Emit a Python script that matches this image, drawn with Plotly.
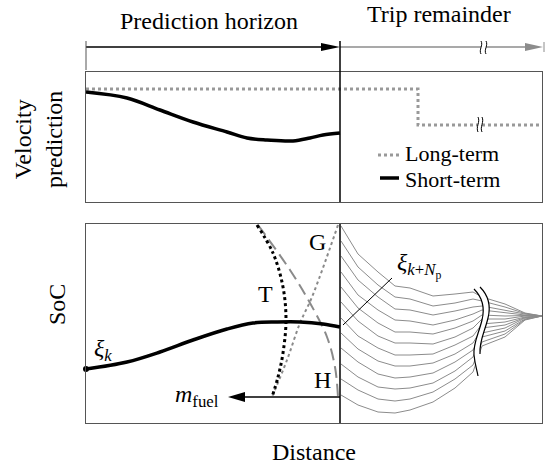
import plotly.graph_objects as go

W, H = 546, 468
FONT = "Liberation Serif, Times New Roman, serif"
FS = 24

# ---- distance axis shared by both panels (horizon ends at HORIZON) ----
HORIZON = 254
X_END = 456

# ---- velocity prediction (top panel) ----
long_x = [0, 332, 332, 456]
long_v = [113, 113, 77, 77]
short_x = [0, 41, 74, 107, 141, 161, 181, 207, 224, 237, 254]
short_v = [110, 104, 92, 80, 70, 64, 62, 61, 64, 67, 69]

# ---- state of charge (bottom panel) ----
soc_x = [0, 41, 74, 107, 141, 167, 191, 214, 237, 254]
soc_y = [54, 61, 71, 83, 94, 100, 101, 101, 99, 96]

# candidate end-of-horizon curves
t_x = [171, 187, 197, 200, 197, 192, 186]
t_y = [198, 170, 136, 103, 70, 46, 26]
g_x = [252, 226, 214, 201, 186]
g_y = [198, 126, 100, 63, 26]
h_x = [172, 204, 224, 241, 249, 252]
h_y = [198, 153, 120, 86, 56, 26]
fuel_y = 26
fuel_tip = 142

# long-term SoC trajectories over the trip remainder
traj_x = [255, 272, 292, 309, 324, 347, 369, 387, 396, 419, 439, 456]
traj_soc = [
    [197, 169, 151, 137, 135, 127, 129, 131, 126, 119, 110, 107],
    [182, 156, 138, 126, 124, 117, 120, 124, 122, 116, 109.5, 107],
    [167, 143, 126, 114, 113, 108, 112, 116, 117, 113, 109, 107],
    [151, 128, 113, 103, 102, 98, 103, 109, 113, 110, 108, 107],
    [136, 115, 100, 91, 91, 89, 95, 102, 108, 107, 107.5, 107],
    [121, 102, 87, 80, 80, 79, 86, 95, 104, 104, 107, 107],
    [105, 87, 75, 68, 68, 69, 78, 87, 99, 101, 106, 107],
    [90, 74, 62, 57, 57, 60, 69, 80, 95, 98, 105.5, 107],
    [75, 61, 49, 45, 46, 50, 61, 73, 90, 95, 105, 107],
    [59, 46, 36, 34, 35, 40, 52, 66, 86, 92, 104, 107],
    [44, 33, 24, 22, 24, 31, 44, 58, 81, 89, 103.5, 107],
    [28, 18, 11, 10, 13, 21, 35, 51, 77, 86, 103, 107],
]

GRAY = "#8c8c8c"
BORDER = "#555555"


def pxx(x):
    return x / W


def pxy(y):
    return 1 - y / H


fig = go.Figure()

# top panel
fig.add_trace(go.Scatter(x=long_x, y=long_v, mode="lines",
                         line=dict(color="#999999", width=3, dash="dot"),
                         xaxis="x", yaxis="y", hoverinfo="skip"))
fig.add_trace(go.Scatter(x=short_x, y=short_v, mode="lines",
                         line=dict(color="black", width=3.5, shape="spline", smoothing=1.0),
                         xaxis="x", yaxis="y", hoverinfo="skip"))

# bottom panel: trajectories first so the rest sits on top
for traj in traj_soc:
    fig.add_trace(go.Scatter(x=traj_x, y=traj, mode="lines",
                             line=dict(color=GRAY, width=1),
                             xaxis="x2", yaxis="y2", hoverinfo="skip"))

fig.add_trace(go.Scatter(x=h_x, y=h_y, mode="lines",
                         line=dict(color="#8a8a8a", width=2, dash="12px,6px", shape="spline"),
                         xaxis="x2", yaxis="y2", hoverinfo="skip"))
fig.add_trace(go.Scatter(x=g_x, y=g_y, mode="lines",
                         line=dict(color="#8a8a8a", width=2, dash="dot", shape="spline"),
                         xaxis="x2", yaxis="y2", hoverinfo="skip"))
fig.add_trace(go.Scatter(x=t_x, y=t_y, mode="lines",
                         line=dict(color="black", width=3, dash="dot", shape="spline"),
                         xaxis="x2", yaxis="y2", hoverinfo="skip"))
fig.add_trace(go.Scatter(x=soc_x, y=soc_y, mode="lines",
                         line=dict(color="black", width=3.5, shape="spline", smoothing=1.0),
                         xaxis="x2", yaxis="y2", hoverinfo="skip"))
fig.add_trace(go.Scatter(x=[soc_x[0]], y=[soc_y[0]], mode="markers",
                         marker=dict(color="black", size=6), cliponaxis=False,
                         xaxis="x2", yaxis="y2", hoverinfo="skip"))
# fuel mass arrow shaft
fig.add_trace(go.Scatter(x=[HORIZON, fuel_tip + 14], y=[fuel_y, fuel_y], mode="lines",
                         line=dict(color="black", width=1.5),
                         xaxis="x2", yaxis="y2", hoverinfo="skip"))

shapes = []


def s_path(x, y0, y1, amp):
    """Small S-shaped break mark in pixel space, returned in paper coords."""
    d = y1 - y0
    pts = [(x, y0), (x + amp, y0 + d / 3), (x - amp, y0 + 2 * d / 3), (x, y1)]
    p = [(pxx(a), pxy(b)) for a, b in pts]
    return "M {} {} C {} {}, {} {}, {} {}".format(*[v for q in p for v in q])


def band_path(x, y0, y1, amp, w):
    d = y1 - y0
    pts = [(x, y0), (x + amp, y0 + d / 3), (x - amp, y0 + 2 * d / 3), (x, y1)]
    p = [(pxx(a), pxy(b)) for a, b in pts]
    q = [(pxx(a + w), pxy(b)) for a, b in reversed(pts)]
    s = "M {} {} C {} {}, {} {}, {} {}".format(*[v for t in p for v in t])
    s += " L {} {} C {} {}, {} {}, {} {} Z".format(*[v for t in q for v in t])
    return s


# top row: prediction horizon / trip remainder arrows
ya = 47
shapes.append(dict(type="line", xref="paper", yref="paper", x0=pxx(86), x1=pxx(322), y0=pxy(ya), y1=pxy(ya),
                   line=dict(color="black", width=1.3)))
shapes.append(dict(type="path", xref="paper", yref="paper",
                   path=f"M {pxx(340)} {pxy(ya)} L {pxx(321)} {pxy(ya-4)} L {pxx(321)} {pxy(ya+4)} Z",
                   fillcolor="black", line=dict(width=0)))
shapes.append(dict(type="line", xref="paper", yref="paper", x0=pxx(340), x1=pxx(526), y0=pxy(ya), y1=pxy(ya),
                   line=dict(color=GRAY, width=1.3)))
shapes.append(dict(type="path", xref="paper", yref="paper",
                   path=f"M {pxx(543)} {pxy(ya)} L {pxx(525)} {pxy(ya-4)} L {pxx(525)} {pxy(ya+4)} Z",
                   fillcolor=GRAY, line=dict(width=0)))
shapes.append(dict(type="line", xref="paper", yref="paper", x0=pxx(86), x1=pxx(86), y0=pxy(41), y1=pxy(70),
                   line=dict(color=BORDER, width=1)))
shapes.append(dict(type="line", xref="paper", yref="paper", x0=pxx(544), x1=pxx(544), y0=pxy(42), y1=pxy(52),
                   line=dict(color=GRAY, width=1)))
shapes.append(dict(type="path", xref="paper", yref="paper", path=band_path(481, 41, 54, 2.5, 5),
                   fillcolor="white", line=dict(width=0)))
for bx in (481, 486):
    shapes.append(dict(type="path", xref="paper", yref="paper", path=s_path(bx, 41, 54, 2.5),
                       line=dict(color="black", width=1)))

# horizon divider
shapes.append(dict(type="line", xref="x", yref="paper", x0=HORIZON, x1=HORIZON, y0=pxy(41), y1=pxy(202),
                   line=dict(color="black", width=1.5)))
shapes.append(dict(type="line", xref="x2", yref="paper", x0=HORIZON, x1=HORIZON, y0=pxy(224), y1=pxy(423),
                   line=dict(color="black", width=1.5)))

# top panel break on long-term profile
shapes.append(dict(type="path", xref="paper", yref="paper", path=band_path(478, 117, 132, 2.5, 4),
                   fillcolor="white", line=dict(width=0)))
for bx in (478, 482):
    shapes.append(dict(type="path", xref="paper", yref="paper", path=s_path(bx, 117, 132, 2.5),
                       line=dict(color="black", width=1)))

# legend samples
shapes.append(dict(type="line", xref="paper", yref="paper", x0=pxx(378), x1=pxx(399), y0=pxy(155), y1=pxy(155),
                   line=dict(color="#999999", width=3, dash="dot")))
shapes.append(dict(type="line", xref="paper", yref="paper", x0=pxx(380), x1=pxx(399), y0=pxy(178), y1=pxy(178),
                   line=dict(color="black", width=3.5)))

# bottom panel break (white band + two wavy marks)
left_c = "M 388 134 C 396 126, 399 115, 396 103 C 393 90, 387 80, 388 68 C 389 58, 391 53, 392 47"
band = (left_c + " L 398 47 L 398 69 L 394 69 C 393 82, 399 92, 402 105 C 405 117, 402 128, 394 136 Z")
shapes.append(dict(type="path", xref="x2", yref="y2", path=band, fillcolor="white", line=dict(width=0)))
shapes.append(dict(type="path", xref="x2", yref="y2", path=left_c, line=dict(color="black", width=1.2)))
shapes.append(dict(type="path", xref="x2", yref="y2",
                   path="M 394 136 C 402 128, 405 117, 402 105 C 399 92, 393 82, 394 69",
                   line=dict(color="black", width=1.2)))

# fuel arrow head
shapes.append(dict(type="path", xref="x2", yref="y2",
                   path=f"M {fuel_tip} {fuel_y} L {fuel_tip + 17} {fuel_y + 5} L {fuel_tip + 17} {fuel_y - 5} Z",
                   fillcolor="black", line=dict(width=0)))
# pointer to end-of-horizon SoC
shapes.append(dict(type="line", xref="x2", yref="y2", x0=257, y0=98, x1=306, y1=145,
                   line=dict(color="black", width=1)))

annotations = []


def label(text, x, y, size=FS, xanchor="center", yanchor="middle", angle=0, ref="paper"):
    annotations.append(dict(text=text, x=x, y=y, xref=ref if ref == "paper" else ref[0],
                            yref=ref if ref == "paper" else ref[1],
                            showarrow=False, xanchor=xanchor, yanchor=yanchor, textangle=angle,
                            font=dict(family=FONT, size=size, color="black")))


label("Prediction horizon", pxx(209), pxy(21))
label("Trip remainder", pxx(439), pxy(14))
label("Long-term", pxx(403), pxy(154), size=22, xanchor="left")
label("Short-term", pxx(403), pxy(179), size=22, xanchor="left")
label("Velocity<br>prediction", pxx(38), pxy(140), angle=-90)
label("SoC", pxx(57), pxy(305), angle=-90)
label("Distance", pxx(314), pxy(452))
label("T", 179, 129, ref=("x2", "y2"))
label("G", 231, 181, ref=("x2", "y2"))
label("H", 236, 43, ref=("x2", "y2"))
label("<i>m</i><sub>fuel</sub>", 135, fuel_y + 1, xanchor="right", ref=("x2", "y2"))
label("<i>ξ</i><sub><i>k</i></sub>", 6, 73, xanchor="left", ref=("x2", "y2"))
label("<i>ξ</i><sub><i>k</i>+<i>N</i><sub>p</sub></sub>", 309, 158, xanchor="left", ref=("x2", "y2"))

axis_common = dict(showline=True, mirror=True, linecolor=BORDER, linewidth=1, showgrid=False,
                   zeroline=False, showticklabels=False, ticks="", fixedrange=True)

fig.update_layout(
    width=W, height=H,
    margin=dict(l=0, r=0, t=0, b=0),
    paper_bgcolor="white", plot_bgcolor="white",
    showlegend=False,
    xaxis=dict(domain=[pxx(86), pxx(542)], range=[0, X_END], anchor="y", **axis_common),
    yaxis=dict(domain=[pxy(202), pxy(72)], range=[0, 130], anchor="x", **axis_common),
    xaxis2=dict(domain=[pxx(86), pxx(542)], range=[0, X_END], anchor="y2", **axis_common),
    yaxis2=dict(domain=[pxy(423), pxy(224)], range=[0, 199], anchor="x2", **axis_common),
    shapes=shapes,
    annotations=annotations,
)

fig.write_html("out.html")
